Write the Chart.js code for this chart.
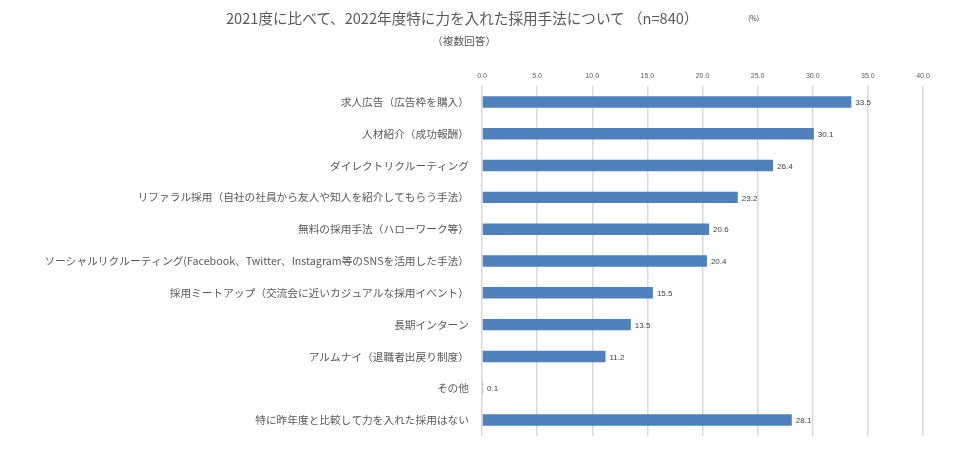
<!DOCTYPE html>
<html>
<head>
<meta charset="utf-8">
<script src="https://cdn.jsdelivr.net/npm/chart.js@4/dist/chart.umd.min.js"></script>
<style>
  html, body { margin: 0; padding: 0; background: #fff; }
  #wrap { position: relative; width: 963px; height: 457px; }
  canvas { position: absolute; left: 0; top: 0; }
  .t { position: absolute; font-family: "Noto Sans CJK JP", "Noto Sans", sans-serif; color: #595959; white-space: nowrap; }
</style>
</head>
<body>
<div id="wrap">
  <canvas id="c" width="963" height="457"></canvas>
  <div class="t" id="title" style="left:226px; top:7px; font-size:14.6px;">2021度に比べて、2022年度特に力を入れた採用手法について （n=840）</div>
  <div class="t" id="sub" style="left:432px; top:33px; font-size:10.7px;">（複数回答）</div>
  <div class="t" id="unit" style="left:748px; top:13px; font-size:7px; color:#404040;">(%)</div>
</div>
<script>
const categories = [
  "求人広告（広告枠を購入）",
  "人材紹介（成功報酬）",
  "ダイレクトリクルーティング",
  "リファラル採用（自社の社員から友人や知人を紹介してもらう手法）",
  "無料の採用手法（ハローワーク等）",
  "ソーシャルリクルーティング(Facebook、Twitter、Instagram等のSNSを活用した手法）",
  "採用ミートアップ（交流会に近いカジュアルな採用イベント）",
  "長期インターン",
  "アルムナイ（退職者出戻り制度）",
  "その他",
  "特に昨年度と比較して力を入れた採用はない"
];
const values = [33.5, 30.1, 26.4, 23.2, 20.6, 20.4, 15.5, 13.5, 11.2, 0.1, 28.1];
const xTicks = [0, 5, 10, 15, 20, 25, 30, 35, 40];

const valueLabels = {
  id: 'valueLabels',
  afterDatasetsDraw(chart) {
    const ctx = chart.ctx;
    const meta = chart.getDatasetMeta(0);
    ctx.save();
    ctx.font = '8px "Liberation Sans", Arial, sans-serif';
    ctx.fillStyle = '#404040';
    ctx.textAlign = 'left';
    ctx.textBaseline = 'middle';
    meta.data.forEach((bar, i) => {
      ctx.fillText(String(values[i]), bar.x + 4, bar.y + 1);
    });
    ctx.restore();
  }
};

new Chart(document.getElementById('c'), {
  type: 'bar',
  data: {
    labels: categories,
    datasets: [{
      data: values,
      backgroundColor: '#4f81bd',
      borderWidth: 0,
      categoryPercentage: 1.0,
      barPercentage: 0.36
    }]
  },
  options: {
    indexAxis: 'y',
    responsive: false,
    animation: false,
    layout: { padding: { top: 60, right: 40, bottom: 21, left: 0 } },
    plugins: { legend: { display: false }, tooltip: { enabled: false }, title: { display: false } },
    scales: {
      x: {
        position: 'top',
        min: 0, max: 40,
        afterBuildTicks(scale) { scale.ticks = xTicks.map(v => ({ value: v })); },
        afterFit(scale) { scale.height = 26; },
        ticks: {
          callback: v => Number(v).toFixed(1),
          font: { size: 7, family: '"Liberation Sans", Arial, sans-serif' },
          color: '#595959',
          padding: 6,
          maxRotation: 0
        },
        grid: { color: '#d9d9d9', lineWidth: 1.5, drawTicks: false },
        border: { display: false }
      },
      y: {
        afterFit(scale) { scale.width = 482; },
        ticks: {
          font: { size: 10.7, family: '"Noto Sans CJK JP", sans-serif' },
          color: '#595959',
          padding: 13
        },
        grid: { display: false, drawTicks: false },
        border: { display: false }
      }
    }
  },
  plugins: [valueLabels]
});
</script>
</body>
</html>
